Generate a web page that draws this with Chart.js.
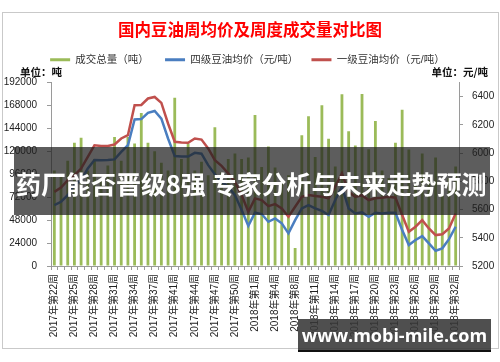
<!DOCTYPE html>
<html>
<head>
<meta charset="utf-8">
<script src="https://cdn.jsdelivr.net/npm/chart.js@4.4.1/dist/chart.umd.min.js"></script>
<style>
  body { margin: 0; background: #fff; }
  #wrap { position: relative; width: 500px; height: 362px; overflow: hidden; }
  #frame { position: absolute; left: 2px; top: 12px; width: 495px; height: 335px; border: 1px solid #c9c9c9; }
  canvas { position: absolute; left: 0; top: 0; }
  .unit { position: absolute; top: 64px; font: bold 10.5px 'Noto Sans CJK SC', sans-serif; color: #111; }
  #banner { position: absolute; left: 14px; top: 147px; width: 476px; height: 68px;
    background: rgba(30,30,30,0.72); color: #fff; font: bold 25px 'Noto Sans CJK SC', sans-serif;
    line-height: 72px; padding-left: 2px; white-space: nowrap; box-sizing: border-box; overflow: hidden; }
  #mark { position: absolute; left: 298px; top: 319px; width: 193px; height: 33px;
    background: rgba(55,55,55,0.88); border-bottom: 2px solid #111; color: #fff;
    font: bold 18px 'Open Sans', sans-serif; line-height: 33px; text-align: center; box-sizing: border-box; }
</style>
</head>
<body>
<div id="wrap">
  <div id="frame"></div>
  <canvas id="myChart" width="500" height="362"></canvas>
  <div class="unit" style="left:20px">单位：吨</div>
  <div class="unit" style="right:12px">单位：元/吨</div>
  <div id="banner">药厂能否晋级8强 专家分析与未来走势预测</div>
  <div id="mark">www.mobi-mile.com</div>
</div>
<script>
const weeks = [
  "2017年第22周","2017年第23周","2017年第24周","2017年第25周","2017年第26周","2017年第27周",
  "2017年第28周","2017年第29周","2017年第30周","2017年第31周","2017年第32周","2017年第33周",
  "2017年第34周","2017年第35周","2017年第36周","2017年第37周","2017年第38周","2017年第39周",
  "2017年第41周","2017年第42周","2017年第43周","2017年第44周","2017年第45周","2017年第46周",
  "2017年第47周","2017年第48周","2017年第49周","2017年第50周","2017年第51周","2017年第52周",
  "2018年第1周","2018年第2周","2018年第3周","2018年第4周","2018年第5周","2018年第6周",
  "2018年第8周","2018年第9周","2018年第10周","2018年第11周","2018年第12周","2018年第13周",
  "2018年第14周","2018年第15周","2018年第16周","2018年第17周","2018年第18周","2018年第19周",
  "2018年第20周","2018年第21周","2018年第22周","2018年第23周","2018年第24周","2018年第25周",
  "2018年第26周","2018年第27周","2018年第28周","2018年第29周","2018年第30周","2018年第31周",
  "2018年第32周"
];
// 成交总量（吨）
const volume = [
  100000, 95000, 110000, 129000, 134000, 100000, 112000, 90000, 105000, 135000,
  110000, 135000, 128000, 160000, 129000, 120000, 108000, 100000, 176000, 112000,
  128000, 100000, 109000, 95000, 145000, 98000, 112000, 117600, 112000, 113400,
  158000, 103600, 125000, 103000, 90000, 95000, 18800, 136700, 156500, 114000,
  168000, 133000, 104000, 179500, 140900, 126000, 180000, 122000, 151600, 100000,
  92000, 129000, 163500, 121700, 85000, 117600, 90000, 113400, 80000, 92000,
  104000
];
// 四级豆油均价（元/吨）
const price4 = [
  5631, 5655, 5702, 5773, 5808, 5890, 5950, 5948, 5950, 5955,
  6008, 6055, 6237, 6240, 6284, 6298, 6244, 6103, 5978, 5975,
  5975, 6001, 5995, 5914, 5850, 5796, 5761, 5702, 5596, 5485,
  5577, 5568, 5513, 5537, 5502, 5431, 5525, 5608, 5631, 5608,
  5590, 5561, 5667, 5761, 5608, 5572, 5580, 5549, 5577, 5572,
  5577, 5577, 5455, 5348, 5384, 5412, 5360, 5308, 5325, 5390,
  5478
];
// 一级豆油均价（元/吨）
const price1 = [
  5725, 5756, 5808, 5843, 5890, 5973, 6055, 6050, 6050, 6060,
  6103, 6126, 6338, 6340, 6386, 6397, 6355, 6209, 6080, 6075,
  6072, 6103, 6095, 6032, 5950, 5909, 5855, 5796, 5702, 5584,
  5679, 5667, 5624, 5638, 5608, 5549, 5620, 5690, 5702, 5696,
  5690, 5679, 5761, 5855, 5725, 5690, 5700, 5667, 5680, 5684,
  5690, 5684, 5561, 5443, 5478, 5525, 5466, 5419, 5425, 5466,
  5572
];
const seriesNames = ["成交总量（吨）", "四级豆油均价（元/吨）", "一级豆油均价（元/吨）"];
const seriesColors = ["#9BBB59", "#4A7EC0", "#C0504D"];
const legendPad = ["\u3000 ", "\u3000", "\u3000"];
const volTicks = [0, 192000, 24000];     // min, max, step
const priceTicks = [5200, 6400, 200];    // min, last label, step

const fam = "'Liberation Sans', 'Noto Sans CJK SC', sans-serif";

const legendGap = {
  id: 'legendGap',
  afterInit(chart) {
    if (!chart.legend) return;
    const fit = chart.legend.fit;
    chart.legend.fit = function () { fit.call(this); this.height += 7.5; };
  }
};

new Chart("myChart", {
  data: {
    labels: weeks,
    datasets: [
      { type: "bar", label: seriesNames[0], data: volume, yAxisID: "y", order: 3,
        backgroundColor: seriesColors[0], barPercentage: 0.42, categoryPercentage: 1 },
      { type: "line", label: seriesNames[1], data: price4, yAxisID: "y1", order: 2,
        borderColor: seriesColors[1], backgroundColor: seriesColors[1], borderWidth: 2.5,
        pointRadius: 0, tension: 0 },
      { type: "line", label: seriesNames[2], data: price1, yAxisID: "y1", order: 1,
        borderColor: seriesColors[2], backgroundColor: seriesColors[2], borderWidth: 2.5,
        pointRadius: 0, tension: 0 }
    ]
  },
  options: {
    responsive: false,
    animation: false,
    layout: { padding: { top: 12, left: 0, right: 0, bottom: 14 } },
    plugins: {
      tooltip: { enabled: false },
      title: {
        display: true,
        text: "国内豆油周均价及周度成交量对比图",
        color: "#ff0000",
        font: { size: 16.5, weight: "bold", family: "'Noto Sans CJK SC', sans-serif" },
        padding: { top: 8, bottom: 6.6 }
      },
      legend: {
        display: true,
        labels: {
          boxWidth: 20, boxHeight: 3, padding: 8, color: "#333",
          font: { size: 10.5, family: fam },
          generateLabels(chart) {
            return seriesNames.map((n, i) => ({
              text: n + legendPad[i], fillStyle: seriesColors[i], strokeStyle: seriesColors[i],
              lineWidth: 0, hidden: false, datasetIndex: i, fontColor: "#333"
            }));
          }
        }
      }
    },
    scales: {
      x: {
        offset: true,
        grid: { display: true, drawOnChartArea: false, tickLength: 4, color: "#9a9a9a", offset: true },
        border: { color: "#9a9a9a" },
        ticks: {
          autoSkip: false, minRotation: 90, maxRotation: 90, padding: 4, color: "#222",
          font: { size: 10, family: fam },
          callback(v, i) { return i % 3 === 0 ? this.getLabelForValue(v) : ""; }
        },
        afterFit(s) { s.height = 362 - 266 - 14; }
      },
      y: {
        position: "left",
        min: volTicks[0], max: volTicks[1],
        grid: { drawOnChartArea: false, tickLength: 4, color: "#9a9a9a" },
        border: { color: "#9a9a9a" },
        ticks: { stepSize: volTicks[2], padding: 10, color: "#222", font: { size: 10, family: fam },
          callback: v => String(v) },
        afterFit(s) { s.width = 51; }
      },
      y1: {
        position: "right",
        min: priceTicks[0], max: priceTicks[1] + priceTicks[2] / 2,
        grid: { drawOnChartArea: false, tickLength: 4, color: "#9a9a9a" },
        border: { color: "#9a9a9a" },
        ticks: { stepSize: priceTicks[2], padding: 9, color: "#222", font: { size: 10, family: fam },
          callback: v => String(v) },
        afterBuildTicks(s) { s.ticks = s.ticks.filter(t => t.value <= priceTicks[1]); },
        afterFit(s) { s.width = 41; }
      }
    }
  },
  plugins: [legendGap]
});
</script>
</body>
</html>
